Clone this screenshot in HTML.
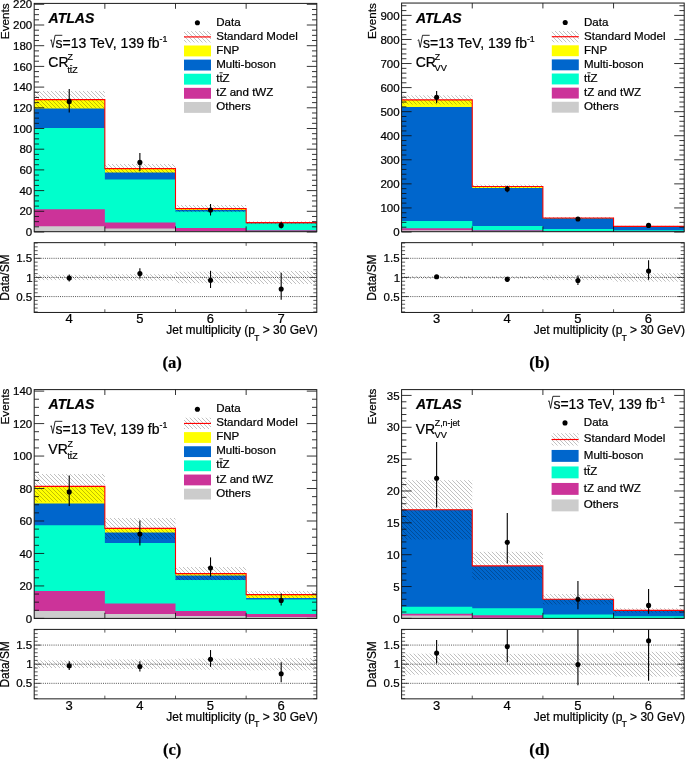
<!DOCTYPE html>
<html><head><meta charset="utf-8"><title>ATLAS jet multiplicity</title>
<style>html,body{margin:0;padding:0;background:#fff}body{width:685px;height:759px;overflow:hidden;font-family:"Liberation Sans",sans-serif}svg{display:block;will-change:transform}svg text{stroke:#000;stroke-width:0.22px}</style>
</head><body>
<svg width="685" height="759" viewBox="0 0 685 759">
<defs><pattern id="h" width="4" height="4" patternUnits="userSpaceOnUse"><path d="M-1,-1L5,5M-1,3L1,5M3,-1L5,1" stroke="#000" stroke-width="0.55" stroke-opacity="0.45" fill="none"/></pattern></defs>
<rect width="685" height="759" fill="#fff"/>
<path d="M34.2,232L34.2,99.6L104.85,99.6L104.85,168.6L175.5,168.6L175.5,208.6L246.15,208.6L246.15,222.6L316.8,222.6L316.8,232Z" fill="#ffff00"/>
<path d="M34.2,232L34.2,108.6L104.85,108.6L104.85,172.6L175.5,172.6L175.5,210L246.15,210L246.15,223.2L316.8,223.2L316.8,232Z" fill="#0066cc"/>
<path d="M34.2,232L34.2,128L104.85,128L104.85,179.4L175.5,179.4L175.5,211.6L246.15,211.6L246.15,223.4L316.8,223.4L316.8,232Z" fill="#00ffcc"/>
<path d="M34.2,232L34.2,209.3L104.85,209.3L104.85,222.6L175.5,222.6L175.5,228L246.15,228L246.15,230.3L316.8,230.3L316.8,232Z" fill="#cc3399"/>
<path d="M34.2,232L34.2,226.3L104.85,226.3L104.85,228.6L175.5,228.6L175.5,231L246.15,231L246.15,231.6L316.8,231.6L316.8,232Z" fill="#cccccc"/>
<rect x="34.2" y="91" width="70.65" height="17.4" fill="url(#h)"/>
<rect x="104.85" y="164" width="70.65" height="9.2" fill="url(#h)"/>
<rect x="175.5" y="205" width="70.65" height="7.2" fill="url(#h)"/>
<rect x="246.15" y="221.3" width="70.65" height="2.7" fill="url(#h)"/>
<path d="M34.2,99.6L34.2,99.6L104.85,99.6L104.85,168.6L175.5,168.6L175.5,208.6L246.15,208.6L246.15,222.6L316.8,222.6" fill="none" stroke="#ff0000" stroke-width="1.08"/>
<line x1="69.23" x2="69.23" y1="89" y2="112.6" stroke="#000" stroke-width="1.1"/>
<circle cx="69.23" cy="101.4" r="2.55" fill="#000"/>
<line x1="139.88" x2="139.88" y1="153" y2="171" stroke="#000" stroke-width="1.1"/>
<circle cx="139.88" cy="162.4" r="2.55" fill="#000"/>
<line x1="210.52" x2="210.52" y1="204" y2="215.5" stroke="#000" stroke-width="1.1"/>
<circle cx="210.52" cy="210" r="2.55" fill="#000"/>
<line x1="281.18" x2="281.18" y1="221.7" y2="228.6" stroke="#000" stroke-width="1.1"/>
<circle cx="281.18" cy="225.4" r="2.55" fill="#000"/>
<path d="M34.2,232h10M316.8,232h-10M34.2,226.82h4.8M316.8,226.82h-4.8M34.2,221.65h4.8M316.8,221.65h-4.8M34.2,216.47h4.8M316.8,216.47h-4.8M34.2,211.3h10M316.8,211.3h-10M34.2,206.12h4.8M316.8,206.12h-4.8M34.2,200.95h4.8M316.8,200.95h-4.8M34.2,195.78h4.8M316.8,195.78h-4.8M34.2,190.6h10M316.8,190.6h-10M34.2,185.43h4.8M316.8,185.43h-4.8M34.2,180.25h4.8M316.8,180.25h-4.8M34.2,175.07h4.8M316.8,175.07h-4.8M34.2,169.9h10M316.8,169.9h-10M34.2,164.73h4.8M316.8,164.73h-4.8M34.2,159.55h4.8M316.8,159.55h-4.8M34.2,154.38h4.8M316.8,154.38h-4.8M34.2,149.2h10M316.8,149.2h-10M34.2,144.03h4.8M316.8,144.03h-4.8M34.2,138.85h4.8M316.8,138.85h-4.8M34.2,133.68h4.8M316.8,133.68h-4.8M34.2,128.5h10M316.8,128.5h-10M34.2,123.33h4.8M316.8,123.33h-4.8M34.2,118.15h4.8M316.8,118.15h-4.8M34.2,112.98h4.8M316.8,112.98h-4.8M34.2,107.8h10M316.8,107.8h-10M34.2,102.62h4.8M316.8,102.62h-4.8M34.2,97.45h4.8M316.8,97.45h-4.8M34.2,92.28h4.8M316.8,92.28h-4.8M34.2,87.1h10M316.8,87.1h-10M34.2,81.93h4.8M316.8,81.93h-4.8M34.2,76.75h4.8M316.8,76.75h-4.8M34.2,71.58h4.8M316.8,71.58h-4.8M34.2,66.4h10M316.8,66.4h-10M34.2,61.23h4.8M316.8,61.23h-4.8M34.2,56.05h4.8M316.8,56.05h-4.8M34.2,50.88h4.8M316.8,50.88h-4.8M34.2,45.7h10M316.8,45.7h-10M34.2,40.53h4.8M316.8,40.53h-4.8M34.2,35.35h4.8M316.8,35.35h-4.8M34.2,30.18h4.8M316.8,30.18h-4.8M34.2,25h10M316.8,25h-10M34.2,19.83h4.8M316.8,19.83h-4.8M34.2,14.65h4.8M316.8,14.65h-4.8M34.2,9.48h4.8M316.8,9.48h-4.8M34.2,4.3h10M316.8,4.3h-10M104.85,232v-5.6M104.85,3.4v5.4M175.5,232v-5.6M175.5,3.4v5.4M246.15,232v-5.6M246.15,3.4v5.4" stroke="#111" stroke-width="0.85" fill="none"/>
<rect x="34.2" y="3.4" width="282.6" height="228.3" fill="none" stroke="#1a1a1a" stroke-width="1"/>
<text x="32.2" y="236.15" font-family="Liberation Sans, sans-serif" font-size="11.5" text-anchor="end">0</text>
<text x="32.2" y="215.45" font-family="Liberation Sans, sans-serif" font-size="11.5" text-anchor="end">20</text>
<text x="32.2" y="194.75" font-family="Liberation Sans, sans-serif" font-size="11.5" text-anchor="end">40</text>
<text x="32.2" y="174.05" font-family="Liberation Sans, sans-serif" font-size="11.5" text-anchor="end">60</text>
<text x="32.2" y="153.35" font-family="Liberation Sans, sans-serif" font-size="11.5" text-anchor="end">80</text>
<text x="32.2" y="132.65" font-family="Liberation Sans, sans-serif" font-size="11.5" text-anchor="end">100</text>
<text x="32.2" y="111.95" font-family="Liberation Sans, sans-serif" font-size="11.5" text-anchor="end">120</text>
<text x="32.2" y="91.25" font-family="Liberation Sans, sans-serif" font-size="11.5" text-anchor="end">140</text>
<text x="32.2" y="70.55" font-family="Liberation Sans, sans-serif" font-size="11.5" text-anchor="end">160</text>
<text x="32.2" y="49.85" font-family="Liberation Sans, sans-serif" font-size="11.5" text-anchor="end">180</text>
<text x="32.2" y="29.15" font-family="Liberation Sans, sans-serif" font-size="11.5" text-anchor="end">200</text>
<text x="32.2" y="8.45" font-family="Liberation Sans, sans-serif" font-size="11.5" text-anchor="end">220</text>
<text transform="translate(8.5,3.4) rotate(-90)" font-family="Liberation Sans, sans-serif" font-size="11.7" text-anchor="end">Events</text>
<rect x="34.2" y="274.77" width="70.65" height="5.36" fill="url(#h)"/>
<rect x="104.85" y="274.2" width="70.65" height="6.5" fill="url(#h)"/>
<rect x="175.5" y="271.71" width="70.65" height="11.47" fill="url(#h)"/>
<rect x="246.15" y="270.95" width="70.65" height="13.01" fill="url(#h)"/>
<line x1="34.2" x2="316.8" y1="296.57" y2="296.57" stroke="#000" stroke-opacity="0.8" stroke-width="0.85" stroke-dasharray="1,1.15"/>
<line x1="34.2" x2="316.8" y1="277.45" y2="277.45" stroke="#000" stroke-opacity="0.8" stroke-width="0.85" stroke-dasharray="1,1.15"/>
<line x1="34.2" x2="316.8" y1="258.32" y2="258.32" stroke="#000" stroke-opacity="0.8" stroke-width="0.85" stroke-dasharray="1,1.15"/>
<line x1="69.23" x2="69.23" y1="274.58" y2="281.47" stroke="#000" stroke-width="1.1"/>
<circle cx="69.23" cy="278.02" r="2.55" fill="#000"/>
<line x1="139.88" x2="139.88" y1="268.27" y2="278.6" stroke="#000" stroke-width="1.1"/>
<circle cx="139.88" cy="273.62" r="2.55" fill="#000"/>
<line x1="210.52" x2="210.52" y1="270.79" y2="288.01" stroke="#000" stroke-width="1.1"/>
<circle cx="210.52" cy="280.36" r="2.55" fill="#000"/>
<line x1="281.18" x2="281.18" y1="272.86" y2="299.63" stroke="#000" stroke-width="1.1"/>
<circle cx="281.18" cy="288.93" r="2.55" fill="#000"/>
<path d="M34.2,311.88h3.5M316.8,311.88h-3.5M34.2,308.05h3.5M316.8,308.05h-3.5M34.2,304.22h3.5M316.8,304.22h-3.5M34.2,300.4h3.5M316.8,300.4h-3.5M34.2,296.57h6.6M316.8,296.57h-6.6M34.2,292.75h3.5M316.8,292.75h-3.5M34.2,288.93h3.5M316.8,288.93h-3.5M34.2,285.1h3.5M316.8,285.1h-3.5M34.2,281.27h3.5M316.8,281.27h-3.5M34.2,277.45h6.6M316.8,277.45h-6.6M34.2,273.62h3.5M316.8,273.62h-3.5M34.2,269.8h3.5M316.8,269.8h-3.5M34.2,265.97h3.5M316.8,265.97h-3.5M34.2,262.15h3.5M316.8,262.15h-3.5M34.2,258.32h6.6M316.8,258.32h-6.6M34.2,254.5h3.5M316.8,254.5h-3.5M34.2,250.67h3.5M316.8,250.67h-3.5M34.2,246.85h3.5M316.8,246.85h-3.5M34.2,243.02h3.5M316.8,243.02h-3.5M104.85,312.45v-3.2M104.85,242.65v3.2M175.5,312.45v-3.2M175.5,242.65v3.2M246.15,312.45v-3.2M246.15,242.65v3.2" stroke="#222" stroke-width="0.75" fill="none"/>
<rect x="34.2" y="242.65" width="282.6" height="69.8" fill="none" stroke="#1a1a1a" stroke-width="1"/>
<text x="32.2" y="300.72" font-family="Liberation Sans, sans-serif" font-size="11.5" text-anchor="end">0.5</text>
<text x="32.7" y="281.6" font-family="Liberation Sans, sans-serif" font-size="11.5" text-anchor="end">1</text>
<text x="32.2" y="262.47" font-family="Liberation Sans, sans-serif" font-size="11.5" text-anchor="end">1.5</text>
<text transform="translate(8.5,277.65) rotate(-90)" font-family="Liberation Sans, sans-serif" font-size="11.9" text-anchor="middle">Data/SM</text>
<text x="69.12" y="323.25" font-family="Liberation Sans, sans-serif" font-size="13" text-anchor="middle">4</text>
<text x="139.78" y="323.25" font-family="Liberation Sans, sans-serif" font-size="13" text-anchor="middle">5</text>
<text x="210.42" y="323.25" font-family="Liberation Sans, sans-serif" font-size="13" text-anchor="middle">6</text>
<text x="281.08" y="323.25" font-family="Liberation Sans, sans-serif" font-size="13" text-anchor="middle">7</text>
<text x="317.7" y="334.25" font-family="Liberation Sans, sans-serif" font-size="12" text-anchor="end">Jet multiplicity (p<tspan font-size="8.3" dy="6.3" dx="-0.7">T</tspan><tspan dy="-6.3"> &gt; 30 GeV)</tspan></text>
<text x="172.1" y="368.45" font-family="Liberation Serif, serif" font-weight="bold" font-size="16.6" text-anchor="middle">(a)</text>
<text x="48.6" y="23" font-family="Liberation Sans, sans-serif" font-size="14" font-weight="bold" font-style="italic">ATLAS</text>
<path d="M50.3,40.4 l1.0,-0.6 l1.5,7.6 l2.3,-12.1 h7.2" fill="none" stroke="#000" stroke-width="0.85"/><text x="55.6" y="48" font-family="Liberation Sans, sans-serif" font-size="14">s=13 TeV, 139 fb<tspan font-size="8.8" dy="-6.2">-1</tspan></text>
<text x="48.3" y="67" font-family="Liberation Sans, sans-serif" font-size="14">CR</text>
<text x="67.4" y="60" font-family="Liberation Sans, sans-serif" font-size="8.8">Z</text>
<text x="67.4" y="73" font-family="Liberation Sans, sans-serif" font-size="8.8">ttZ</text>
<line x1="70" x2="72.2" y1="65.6" y2="65.6" stroke="#000" stroke-width="0.8"/>
<circle cx="197.4" cy="22.7" r="2.55" fill="#000"/>
<text x="216.2" y="26" font-family="Liberation Sans, sans-serif" font-size="11.55">Data</text>
<rect x="184" y="31.17" width="27" height="11.3" fill="url(#h)"/>
<line x1="184" x2="211" y1="36.92" y2="36.92" stroke="#ff0000" stroke-width="1.15"/>
<text x="216.2" y="40" font-family="Liberation Sans, sans-serif" font-size="11.55">Standard Model</text>
<rect x="184" y="45.49" width="27" height="10.9" fill="#ffff00"/>
<text x="216.2" y="54" font-family="Liberation Sans, sans-serif" font-size="11.55">FNP</text>
<rect x="184" y="59.61" width="27" height="10.9" fill="#0066cc"/>
<text x="216.2" y="68" font-family="Liberation Sans, sans-serif" font-size="11.55">Multi-boson</text>
<rect x="184" y="73.73" width="27" height="10.9" fill="#00ffcc"/>
<text x="216.2" y="82" font-family="Liberation Sans, sans-serif" font-size="11.55">ttZ</text>
<line x1="219.5" x2="222.7" y1="72.8" y2="72.8" stroke="#000" stroke-width="0.9"/>
<rect x="184" y="87.85" width="27" height="10.9" fill="#cc3399"/>
<text x="216.2" y="96" font-family="Liberation Sans, sans-serif" font-size="11.55">tZ and tWZ</text>
<rect x="184" y="101.97" width="27" height="10.9" fill="#cccccc"/>
<text x="216.2" y="110" font-family="Liberation Sans, sans-serif" font-size="11.55">Others</text>
<path d="M401.6,232L401.6,99.9L472.25,99.9L472.25,186.5L542.9,186.5L542.9,218L613.55,218L613.55,226.4L684.2,226.4L684.2,232Z" fill="#ffff00"/>
<path d="M401.6,232L401.6,107.1L472.25,107.1L472.25,187.9L542.9,187.9L542.9,218.3L613.55,218.3L613.55,226.6L684.2,226.6L684.2,232Z" fill="#0066cc"/>
<path d="M401.6,232L401.6,221L472.25,221L472.25,226L542.9,226L542.9,229L613.55,229L613.55,230.2L684.2,230.2L684.2,232Z" fill="#00ffcc"/>
<path d="M401.6,232L401.6,228.3L472.25,228.3L472.25,230.3L542.9,230.3L542.9,231L613.55,231L613.55,231.4L684.2,231.4L684.2,232Z" fill="#cc3399"/>
<path d="M401.6,232L401.6,230.3L472.25,230.3L472.25,231.2L542.9,231.2L542.9,231.4L613.55,231.4L613.55,231.5L684.2,231.5L684.2,232Z" fill="#cccccc"/>
<rect x="401.6" y="95.3" width="70.65" height="9.2" fill="url(#h)"/>
<rect x="472.25" y="184.6" width="70.65" height="3.6" fill="url(#h)"/>
<rect x="542.9" y="217" width="70.65" height="2" fill="url(#h)"/>
<rect x="613.55" y="225.8" width="70.65" height="1.2" fill="url(#h)"/>
<path d="M401.6,99.9L401.6,99.9L472.25,99.9L472.25,186.5L542.9,186.5L542.9,218L613.55,218L613.55,226.4L684.2,226.4" fill="none" stroke="#ff0000" stroke-width="1.08"/>
<line x1="436.62" x2="436.62" y1="91" y2="103.2" stroke="#000" stroke-width="1.1"/>
<circle cx="436.62" cy="97.2" r="2.55" fill="#000"/>
<line x1="507.28" x2="507.28" y1="185.8" y2="192.2" stroke="#000" stroke-width="1.1"/>
<circle cx="507.28" cy="189" r="2.55" fill="#000"/>
<line x1="577.93" x2="577.93" y1="217.2" y2="220.8" stroke="#000" stroke-width="1.1"/>
<circle cx="577.93" cy="219" r="2.55" fill="#000"/>
<line x1="648.58" x2="648.58" y1="224.2" y2="226.6" stroke="#000" stroke-width="1.1"/>
<circle cx="648.58" cy="225.4" r="2.55" fill="#000"/>
<path d="M401.6,232h10M684.2,232h-10M401.6,227.19h4.8M684.2,227.19h-4.8M401.6,222.37h4.8M684.2,222.37h-4.8M401.6,217.56h4.8M684.2,217.56h-4.8M401.6,212.75h4.8M684.2,212.75h-4.8M401.6,207.93h10M684.2,207.93h-10M401.6,203.12h4.8M684.2,203.12h-4.8M401.6,198.31h4.8M684.2,198.31h-4.8M401.6,193.49h4.8M684.2,193.49h-4.8M401.6,188.68h4.8M684.2,188.68h-4.8M401.6,183.87h10M684.2,183.87h-10M401.6,179.05h4.8M684.2,179.05h-4.8M401.6,174.24h4.8M684.2,174.24h-4.8M401.6,169.43h4.8M684.2,169.43h-4.8M401.6,164.61h4.8M684.2,164.61h-4.8M401.6,159.8h10M684.2,159.8h-10M401.6,154.99h4.8M684.2,154.99h-4.8M401.6,150.17h4.8M684.2,150.17h-4.8M401.6,145.36h4.8M684.2,145.36h-4.8M401.6,140.55h4.8M684.2,140.55h-4.8M401.6,135.73h10M684.2,135.73h-10M401.6,130.92h4.8M684.2,130.92h-4.8M401.6,126.11h4.8M684.2,126.11h-4.8M401.6,121.29h4.8M684.2,121.29h-4.8M401.6,116.48h4.8M684.2,116.48h-4.8M401.6,111.67h10M684.2,111.67h-10M401.6,106.85h4.8M684.2,106.85h-4.8M401.6,102.04h4.8M684.2,102.04h-4.8M401.6,97.23h4.8M684.2,97.23h-4.8M401.6,92.41h4.8M684.2,92.41h-4.8M401.6,87.6h10M684.2,87.6h-10M401.6,82.79h4.8M684.2,82.79h-4.8M401.6,77.97h4.8M684.2,77.97h-4.8M401.6,73.16h4.8M684.2,73.16h-4.8M401.6,68.35h4.8M684.2,68.35h-4.8M401.6,63.53h10M684.2,63.53h-10M401.6,58.72h4.8M684.2,58.72h-4.8M401.6,53.91h4.8M684.2,53.91h-4.8M401.6,49.09h4.8M684.2,49.09h-4.8M401.6,44.28h4.8M684.2,44.28h-4.8M401.6,39.47h10M684.2,39.47h-10M401.6,34.65h4.8M684.2,34.65h-4.8M401.6,29.84h4.8M684.2,29.84h-4.8M401.6,25.03h4.8M684.2,25.03h-4.8M401.6,20.21h4.8M684.2,20.21h-4.8M401.6,15.4h10M684.2,15.4h-10M401.6,10.59h4.8M684.2,10.59h-4.8M401.6,5.77h4.8M684.2,5.77h-4.8M472.25,232v-5.6M472.25,3.05v5.4M542.9,232v-5.6M542.9,3.05v5.4M613.55,232v-5.6M613.55,3.05v5.4" stroke="#111" stroke-width="0.85" fill="none"/>
<rect x="401.6" y="3.05" width="282.6" height="228.65" fill="none" stroke="#1a1a1a" stroke-width="1"/>
<text x="399.6" y="236.15" font-family="Liberation Sans, sans-serif" font-size="11.5" text-anchor="end">0</text>
<text x="399.6" y="212.08" font-family="Liberation Sans, sans-serif" font-size="11.5" text-anchor="end">100</text>
<text x="399.6" y="188.02" font-family="Liberation Sans, sans-serif" font-size="11.5" text-anchor="end">200</text>
<text x="399.6" y="163.95" font-family="Liberation Sans, sans-serif" font-size="11.5" text-anchor="end">300</text>
<text x="399.6" y="139.88" font-family="Liberation Sans, sans-serif" font-size="11.5" text-anchor="end">400</text>
<text x="399.6" y="115.82" font-family="Liberation Sans, sans-serif" font-size="11.5" text-anchor="end">500</text>
<text x="399.6" y="91.75" font-family="Liberation Sans, sans-serif" font-size="11.5" text-anchor="end">600</text>
<text x="399.6" y="67.68" font-family="Liberation Sans, sans-serif" font-size="11.5" text-anchor="end">700</text>
<text x="399.6" y="43.62" font-family="Liberation Sans, sans-serif" font-size="11.5" text-anchor="end">800</text>
<text x="399.6" y="19.55" font-family="Liberation Sans, sans-serif" font-size="11.5" text-anchor="end">900</text>
<text transform="translate(375.9,3.2) rotate(-90)" font-family="Liberation Sans, sans-serif" font-size="11.7" text-anchor="end">Events</text>
<rect x="401.6" y="275.92" width="70.65" height="3.06" fill="url(#h)"/>
<rect x="472.25" y="275.92" width="70.65" height="3.06" fill="url(#h)"/>
<rect x="542.9" y="274.77" width="70.65" height="5.36" fill="url(#h)"/>
<rect x="613.55" y="273.24" width="70.65" height="8.42" fill="url(#h)"/>
<line x1="401.6" x2="684.2" y1="296.57" y2="296.57" stroke="#000" stroke-opacity="0.8" stroke-width="0.85" stroke-dasharray="1,1.15"/>
<line x1="401.6" x2="684.2" y1="277.45" y2="277.45" stroke="#000" stroke-opacity="0.8" stroke-width="0.85" stroke-dasharray="1,1.15"/>
<line x1="401.6" x2="684.2" y1="258.32" y2="258.32" stroke="#000" stroke-opacity="0.8" stroke-width="0.85" stroke-dasharray="1,1.15"/>
<line x1="436.62" x2="436.62" y1="274.96" y2="278.41" stroke="#000" stroke-width="1.1"/>
<circle cx="436.62" cy="276.69" r="2.55" fill="#000"/>
<line x1="507.28" x2="507.28" y1="276.69" y2="282.04" stroke="#000" stroke-width="1.1"/>
<circle cx="507.28" cy="279.36" r="2.55" fill="#000"/>
<line x1="577.93" x2="577.93" y1="275.54" y2="285.1" stroke="#000" stroke-width="1.1"/>
<circle cx="577.93" cy="280.51" r="2.55" fill="#000"/>
<line x1="648.58" x2="648.58" y1="260.24" y2="279.75" stroke="#000" stroke-width="1.1"/>
<circle cx="648.58" cy="270.95" r="2.55" fill="#000"/>
<path d="M401.6,311.88h3.5M684.2,311.88h-3.5M401.6,308.05h3.5M684.2,308.05h-3.5M401.6,304.22h3.5M684.2,304.22h-3.5M401.6,300.4h3.5M684.2,300.4h-3.5M401.6,296.57h6.6M684.2,296.57h-6.6M401.6,292.75h3.5M684.2,292.75h-3.5M401.6,288.93h3.5M684.2,288.93h-3.5M401.6,285.1h3.5M684.2,285.1h-3.5M401.6,281.27h3.5M684.2,281.27h-3.5M401.6,277.45h6.6M684.2,277.45h-6.6M401.6,273.62h3.5M684.2,273.62h-3.5M401.6,269.8h3.5M684.2,269.8h-3.5M401.6,265.97h3.5M684.2,265.97h-3.5M401.6,262.15h3.5M684.2,262.15h-3.5M401.6,258.32h6.6M684.2,258.32h-6.6M401.6,254.5h3.5M684.2,254.5h-3.5M401.6,250.67h3.5M684.2,250.67h-3.5M401.6,246.85h3.5M684.2,246.85h-3.5M401.6,243.02h3.5M684.2,243.02h-3.5M472.25,312.45v-3.2M472.25,242.65v3.2M542.9,312.45v-3.2M542.9,242.65v3.2M613.55,312.45v-3.2M613.55,242.65v3.2" stroke="#222" stroke-width="0.75" fill="none"/>
<rect x="401.6" y="242.65" width="282.6" height="69.8" fill="none" stroke="#1a1a1a" stroke-width="1"/>
<text x="399.6" y="300.72" font-family="Liberation Sans, sans-serif" font-size="11.5" text-anchor="end">0.5</text>
<text x="400.1" y="281.6" font-family="Liberation Sans, sans-serif" font-size="11.5" text-anchor="end">1</text>
<text x="399.6" y="262.47" font-family="Liberation Sans, sans-serif" font-size="11.5" text-anchor="end">1.5</text>
<text transform="translate(375.9,277.65) rotate(-90)" font-family="Liberation Sans, sans-serif" font-size="11.9" text-anchor="middle">Data/SM</text>
<text x="436.53" y="323.25" font-family="Liberation Sans, sans-serif" font-size="13" text-anchor="middle">3</text>
<text x="507.18" y="323.25" font-family="Liberation Sans, sans-serif" font-size="13" text-anchor="middle">4</text>
<text x="577.83" y="323.25" font-family="Liberation Sans, sans-serif" font-size="13" text-anchor="middle">5</text>
<text x="648.48" y="323.25" font-family="Liberation Sans, sans-serif" font-size="13" text-anchor="middle">6</text>
<text x="685.1" y="334.25" font-family="Liberation Sans, sans-serif" font-size="12" text-anchor="end">Jet multiplicity (p<tspan font-size="8.3" dy="6.3" dx="-0.7">T</tspan><tspan dy="-6.3"> &gt; 30 GeV)</tspan></text>
<text x="539.5" y="368.45" font-family="Liberation Serif, serif" font-weight="bold" font-size="16.6" text-anchor="middle">(b)</text>
<text x="416" y="23" font-family="Liberation Sans, sans-serif" font-size="14" font-weight="bold" font-style="italic">ATLAS</text>
<path d="M417.7,40.4 l1.0,-0.6 l1.5,7.6 l2.3,-12.1 h7.2" fill="none" stroke="#000" stroke-width="0.85"/><text x="423" y="48" font-family="Liberation Sans, sans-serif" font-size="14">s=13 TeV, 139 fb<tspan font-size="8.8" dy="-6.2">-1</tspan></text>
<text x="415.7" y="67" font-family="Liberation Sans, sans-serif" font-size="14">CR</text>
<text x="434.8" y="60" font-family="Liberation Sans, sans-serif" font-size="8.8">Z</text>
<text x="434.6" y="71" font-family="Liberation Sans, sans-serif" font-size="9.2">VV</text>
<circle cx="565.2" cy="22.5" r="2.55" fill="#000"/>
<text x="584" y="26" font-family="Liberation Sans, sans-serif" font-size="11.55">Data</text>
<rect x="551.8" y="30.97" width="27" height="11.3" fill="url(#h)"/>
<line x1="551.8" x2="578.8" y1="36.72" y2="36.72" stroke="#ff0000" stroke-width="1.15"/>
<text x="584" y="40" font-family="Liberation Sans, sans-serif" font-size="11.55">Standard Model</text>
<rect x="551.8" y="45.29" width="27" height="10.9" fill="#ffff00"/>
<text x="584" y="54" font-family="Liberation Sans, sans-serif" font-size="11.55">FNP</text>
<rect x="551.8" y="59.41" width="27" height="10.9" fill="#0066cc"/>
<text x="584" y="68" font-family="Liberation Sans, sans-serif" font-size="11.55">Multi-boson</text>
<rect x="551.8" y="73.53" width="27" height="10.9" fill="#00ffcc"/>
<text x="584" y="82" font-family="Liberation Sans, sans-serif" font-size="11.55">ttZ</text>
<line x1="587.3" x2="590.5" y1="72.8" y2="72.8" stroke="#000" stroke-width="0.9"/>
<rect x="551.8" y="87.65" width="27" height="10.9" fill="#cc3399"/>
<text x="584" y="96" font-family="Liberation Sans, sans-serif" font-size="11.55">tZ and tWZ</text>
<rect x="551.8" y="101.77" width="27" height="10.9" fill="#cccccc"/>
<text x="584" y="110" font-family="Liberation Sans, sans-serif" font-size="11.55">Others</text>
<path d="M34.2,618.4L34.2,486.4L104.85,486.4L104.85,528.4L175.5,528.4L175.5,573.6L246.15,573.6L246.15,594.6L316.8,594.6L316.8,618.4Z" fill="#ffff00"/>
<path d="M34.2,618.4L34.2,503.4L104.85,503.4L104.85,532.4L175.5,532.4L175.5,575.4L246.15,575.4L246.15,598L316.8,598L316.8,618.4Z" fill="#0066cc"/>
<path d="M34.2,618.4L34.2,525.2L104.85,525.2L104.85,543L175.5,543L175.5,580L246.15,580L246.15,599.6L316.8,599.6L316.8,618.4Z" fill="#00ffcc"/>
<path d="M34.2,618.4L34.2,590.9L104.85,590.9L104.85,603.5L175.5,603.5L175.5,611L246.15,611L246.15,614L316.8,614L316.8,618.4Z" fill="#cc3399"/>
<path d="M34.2,618.4L34.2,611L104.85,611L104.85,614L175.5,614L175.5,616L246.15,616L246.15,617L316.8,617L316.8,618.4Z" fill="#cccccc"/>
<rect x="34.2" y="474" width="70.65" height="27.8" fill="url(#h)"/>
<rect x="104.85" y="518" width="70.65" height="21" fill="url(#h)"/>
<rect x="175.5" y="567" width="70.65" height="13.2" fill="url(#h)"/>
<rect x="246.15" y="591" width="70.65" height="7.2" fill="url(#h)"/>
<path d="M34.2,486.4L34.2,486.4L104.85,486.4L104.85,528.4L175.5,528.4L175.5,573.6L246.15,573.6L246.15,594.6L316.8,594.6" fill="none" stroke="#ff0000" stroke-width="1.08"/>
<line x1="69.23" x2="69.23" y1="475.6" y2="506" stroke="#000" stroke-width="1.1"/>
<circle cx="69.23" cy="491.9" r="2.55" fill="#000"/>
<line x1="139.88" x2="139.88" y1="520.6" y2="545.6" stroke="#000" stroke-width="1.1"/>
<circle cx="139.88" cy="534" r="2.55" fill="#000"/>
<line x1="210.52" x2="210.52" y1="557.4" y2="576.6" stroke="#000" stroke-width="1.1"/>
<circle cx="210.52" cy="568" r="2.55" fill="#000"/>
<line x1="281.18" x2="281.18" y1="593.4" y2="605.6" stroke="#000" stroke-width="1.1"/>
<circle cx="281.18" cy="600.4" r="2.55" fill="#000"/>
<path d="M34.2,618.4h10M316.8,618.4h-10M34.2,610.28h4.8M316.8,610.28h-4.8M34.2,602.16h4.8M316.8,602.16h-4.8M34.2,594.05h4.8M316.8,594.05h-4.8M34.2,585.93h10M316.8,585.93h-10M34.2,577.81h4.8M316.8,577.81h-4.8M34.2,569.69h4.8M316.8,569.69h-4.8M34.2,561.58h4.8M316.8,561.58h-4.8M34.2,553.46h10M316.8,553.46h-10M34.2,545.34h4.8M316.8,545.34h-4.8M34.2,537.23h4.8M316.8,537.23h-4.8M34.2,529.11h4.8M316.8,529.11h-4.8M34.2,520.99h10M316.8,520.99h-10M34.2,512.87h4.8M316.8,512.87h-4.8M34.2,504.75h4.8M316.8,504.75h-4.8M34.2,496.64h4.8M316.8,496.64h-4.8M34.2,488.52h10M316.8,488.52h-10M34.2,480.4h4.8M316.8,480.4h-4.8M34.2,472.28h4.8M316.8,472.28h-4.8M34.2,464.17h4.8M316.8,464.17h-4.8M34.2,456.05h10M316.8,456.05h-10M34.2,447.93h4.8M316.8,447.93h-4.8M34.2,439.81h4.8M316.8,439.81h-4.8M34.2,431.7h4.8M316.8,431.7h-4.8M34.2,423.58h10M316.8,423.58h-10M34.2,415.46h4.8M316.8,415.46h-4.8M34.2,407.34h4.8M316.8,407.34h-4.8M34.2,399.23h4.8M316.8,399.23h-4.8M34.2,391.11h10M316.8,391.11h-10M104.85,618.4v-5.6M104.85,389.6v5.4M175.5,618.4v-5.6M175.5,389.6v5.4M246.15,618.4v-5.6M246.15,389.6v5.4" stroke="#111" stroke-width="0.85" fill="none"/>
<rect x="34.2" y="389.6" width="282.6" height="228.8" fill="none" stroke="#1a1a1a" stroke-width="1"/>
<text x="32.2" y="622.55" font-family="Liberation Sans, sans-serif" font-size="11.5" text-anchor="end">0</text>
<text x="32.2" y="590.08" font-family="Liberation Sans, sans-serif" font-size="11.5" text-anchor="end">20</text>
<text x="32.2" y="557.61" font-family="Liberation Sans, sans-serif" font-size="11.5" text-anchor="end">40</text>
<text x="32.2" y="525.14" font-family="Liberation Sans, sans-serif" font-size="11.5" text-anchor="end">60</text>
<text x="32.2" y="492.67" font-family="Liberation Sans, sans-serif" font-size="11.5" text-anchor="end">80</text>
<text x="32.2" y="460.2" font-family="Liberation Sans, sans-serif" font-size="11.5" text-anchor="end">100</text>
<text x="32.2" y="427.73" font-family="Liberation Sans, sans-serif" font-size="11.5" text-anchor="end">120</text>
<text x="32.2" y="395.26" font-family="Liberation Sans, sans-serif" font-size="11.5" text-anchor="end">140</text>
<text transform="translate(8.5,388.7) rotate(-90)" font-family="Liberation Sans, sans-serif" font-size="11.7" text-anchor="end">Events</text>
<rect x="34.2" y="660.38" width="70.65" height="7.65" fill="url(#h)"/>
<rect x="104.85" y="659.42" width="70.65" height="9.56" fill="url(#h)"/>
<rect x="175.5" y="658.65" width="70.65" height="11.09" fill="url(#h)"/>
<rect x="246.15" y="658.08" width="70.65" height="12.24" fill="url(#h)"/>
<line x1="34.2" x2="316.8" y1="683.33" y2="683.33" stroke="#000" stroke-opacity="0.8" stroke-width="0.85" stroke-dasharray="1,1.15"/>
<line x1="34.2" x2="316.8" y1="664.2" y2="664.2" stroke="#000" stroke-opacity="0.8" stroke-width="0.85" stroke-dasharray="1,1.15"/>
<line x1="34.2" x2="316.8" y1="645.08" y2="645.08" stroke="#000" stroke-opacity="0.8" stroke-width="0.85" stroke-dasharray="1,1.15"/>
<line x1="69.23" x2="69.23" y1="661.14" y2="669.94" stroke="#000" stroke-width="1.1"/>
<circle cx="69.23" cy="665.73" r="2.55" fill="#000"/>
<line x1="139.88" x2="139.88" y1="661.14" y2="671.47" stroke="#000" stroke-width="1.1"/>
<circle cx="139.88" cy="666.5" r="2.55" fill="#000"/>
<line x1="210.52" x2="210.52" y1="650.05" y2="666.88" stroke="#000" stroke-width="1.1"/>
<circle cx="210.52" cy="659.23" r="2.55" fill="#000"/>
<line x1="281.18" x2="281.18" y1="662.29" y2="682.18" stroke="#000" stroke-width="1.1"/>
<circle cx="281.18" cy="673.76" r="2.55" fill="#000"/>
<path d="M34.2,698.62h3.5M316.8,698.62h-3.5M34.2,694.8h3.5M316.8,694.8h-3.5M34.2,690.98h3.5M316.8,690.98h-3.5M34.2,687.15h3.5M316.8,687.15h-3.5M34.2,683.33h6.6M316.8,683.33h-6.6M34.2,679.5h3.5M316.8,679.5h-3.5M34.2,675.68h3.5M316.8,675.68h-3.5M34.2,671.85h3.5M316.8,671.85h-3.5M34.2,668.03h3.5M316.8,668.03h-3.5M34.2,664.2h6.6M316.8,664.2h-6.6M34.2,660.38h3.5M316.8,660.38h-3.5M34.2,656.55h3.5M316.8,656.55h-3.5M34.2,652.73h3.5M316.8,652.73h-3.5M34.2,648.9h3.5M316.8,648.9h-3.5M34.2,645.08h6.6M316.8,645.08h-6.6M34.2,641.25h3.5M316.8,641.25h-3.5M34.2,637.43h3.5M316.8,637.43h-3.5M34.2,633.6h3.5M316.8,633.6h-3.5M34.2,629.78h3.5M316.8,629.78h-3.5M104.85,698.85v-3.2M104.85,629.4v3.2M175.5,698.85v-3.2M175.5,629.4v3.2M246.15,698.85v-3.2M246.15,629.4v3.2" stroke="#222" stroke-width="0.75" fill="none"/>
<rect x="34.2" y="629.4" width="282.6" height="69.45" fill="none" stroke="#1a1a1a" stroke-width="1"/>
<text x="32.2" y="687.48" font-family="Liberation Sans, sans-serif" font-size="11.5" text-anchor="end">0.5</text>
<text x="32.7" y="668.35" font-family="Liberation Sans, sans-serif" font-size="11.5" text-anchor="end">1</text>
<text x="32.2" y="649.23" font-family="Liberation Sans, sans-serif" font-size="11.5" text-anchor="end">1.5</text>
<text transform="translate(8.5,664.4) rotate(-90)" font-family="Liberation Sans, sans-serif" font-size="11.9" text-anchor="middle">Data/SM</text>
<text x="69.12" y="709.65" font-family="Liberation Sans, sans-serif" font-size="13" text-anchor="middle">3</text>
<text x="139.78" y="709.65" font-family="Liberation Sans, sans-serif" font-size="13" text-anchor="middle">4</text>
<text x="210.42" y="709.65" font-family="Liberation Sans, sans-serif" font-size="13" text-anchor="middle">5</text>
<text x="281.08" y="709.65" font-family="Liberation Sans, sans-serif" font-size="13" text-anchor="middle">6</text>
<text x="317.7" y="720.65" font-family="Liberation Sans, sans-serif" font-size="12" text-anchor="end">Jet multiplicity (p<tspan font-size="8.3" dy="6.3" dx="-0.7">T</tspan><tspan dy="-6.3"> &gt; 30 GeV)</tspan></text>
<text x="172.1" y="754.85" font-family="Liberation Serif, serif" font-weight="bold" font-size="16.6" text-anchor="middle">(c)</text>
<text x="48.6" y="409" font-family="Liberation Sans, sans-serif" font-size="14" font-weight="bold" font-style="italic">ATLAS</text>
<path d="M50.3,426.4 l1.0,-0.6 l1.5,7.6 l2.3,-12.1 h7.2" fill="none" stroke="#000" stroke-width="0.85"/><text x="55.6" y="434" font-family="Liberation Sans, sans-serif" font-size="14">s=13 TeV, 139 fb<tspan font-size="8.8" dy="-6.2">-1</tspan></text>
<text x="48.3" y="454" font-family="Liberation Sans, sans-serif" font-size="14">VR</text>
<text x="67.4" y="447" font-family="Liberation Sans, sans-serif" font-size="8.8">Z</text>
<text x="67.4" y="459" font-family="Liberation Sans, sans-serif" font-size="8.8">ttZ</text>
<line x1="70" x2="72.2" y1="451.6" y2="451.6" stroke="#000" stroke-width="0.8"/>
<circle cx="197.4" cy="409.2" r="2.55" fill="#000"/>
<text x="216.2" y="412" font-family="Liberation Sans, sans-serif" font-size="11.55">Data</text>
<rect x="184" y="417.75" width="27" height="11.2" fill="url(#h)"/>
<line x1="184" x2="211" y1="423.45" y2="423.45" stroke="#ff0000" stroke-width="1.15"/>
<text x="216.2" y="426" font-family="Liberation Sans, sans-serif" font-size="11.55">Standard Model</text>
<rect x="184" y="432.1" width="27" height="10.8" fill="#ffff00"/>
<text x="216.2" y="440" font-family="Liberation Sans, sans-serif" font-size="11.55">FNP</text>
<rect x="184" y="446.25" width="27" height="10.8" fill="#0066cc"/>
<text x="216.2" y="454" font-family="Liberation Sans, sans-serif" font-size="11.55">Multi-boson</text>
<rect x="184" y="460.4" width="27" height="10.8" fill="#00ffcc"/>
<text x="216.2" y="468" font-family="Liberation Sans, sans-serif" font-size="11.55">ttZ</text>
<line x1="219.5" x2="222.7" y1="458.8" y2="458.8" stroke="#000" stroke-width="0.9"/>
<rect x="184" y="474.55" width="27" height="10.8" fill="#cc3399"/>
<text x="216.2" y="483" font-family="Liberation Sans, sans-serif" font-size="11.55">tZ and tWZ</text>
<rect x="184" y="488.7" width="27" height="10.8" fill="#cccccc"/>
<text x="216.2" y="497" font-family="Liberation Sans, sans-serif" font-size="11.55">Others</text>
<path d="M401.6,618.4L401.6,509.7L472.25,509.7L472.25,565.9L542.9,565.9L542.9,599.3L613.55,599.3L613.55,610.4L684.2,610.4L684.2,618.4Z" fill="#ffff00"/>
<path d="M401.6,618.4L401.6,509.7L472.25,509.7L472.25,565.9L542.9,565.9L542.9,599.3L613.55,599.3L613.55,610.4L684.2,610.4L684.2,618.4Z" fill="#0066cc"/>
<path d="M401.6,618.4L401.6,606.7L472.25,606.7L472.25,608.3L542.9,608.3L542.9,614.4L613.55,614.4L613.55,616.3L684.2,616.3L684.2,618.4Z" fill="#00ffcc"/>
<path d="M401.6,618.4L401.6,613.7L472.25,613.7L472.25,615.3L542.9,615.3L542.9,617.9L613.55,617.9L613.55,618.1L684.2,618.1L684.2,618.4Z" fill="#cc3399"/>
<path d="M401.6,618.4L401.6,615.6L472.25,615.6L472.25,617.7L542.9,617.7L542.9,618.2L613.55,618.2L613.55,618.3L684.2,618.3L684.2,618.4Z" fill="#cccccc"/>
<rect x="401.6" y="480.2" width="70.65" height="59.3" fill="url(#h)"/>
<rect x="472.25" y="551.8" width="70.65" height="28" fill="url(#h)"/>
<rect x="542.9" y="594" width="70.65" height="10.5" fill="url(#h)"/>
<rect x="613.55" y="608.2" width="70.65" height="4.4" fill="url(#h)"/>
<path d="M401.6,509.7L401.6,509.7L472.25,509.7L472.25,565.9L542.9,565.9L542.9,599.3L613.55,599.3L613.55,610.4L684.2,610.4" fill="none" stroke="#ff0000" stroke-width="1.08"/>
<line x1="436.62" x2="436.62" y1="442" y2="507.5" stroke="#000" stroke-width="1.1"/>
<circle cx="436.62" cy="478.3" r="2.55" fill="#000"/>
<line x1="507.28" x2="507.28" y1="513" y2="563.6" stroke="#000" stroke-width="1.1"/>
<circle cx="507.28" cy="542.2" r="2.55" fill="#000"/>
<line x1="577.93" x2="577.93" y1="580.9" y2="609.3" stroke="#000" stroke-width="1.1"/>
<circle cx="577.93" cy="599.3" r="2.55" fill="#000"/>
<line x1="648.58" x2="648.58" y1="589" y2="613.7" stroke="#000" stroke-width="1.1"/>
<circle cx="648.58" cy="605.4" r="2.55" fill="#000"/>
<path d="M401.6,618.4h10M684.2,618.4h-10M401.6,612.03h4.8M684.2,612.03h-4.8M401.6,605.66h4.8M684.2,605.66h-4.8M401.6,599.29h4.8M684.2,599.29h-4.8M401.6,592.92h4.8M684.2,592.92h-4.8M401.6,586.54h10M684.2,586.54h-10M401.6,580.17h4.8M684.2,580.17h-4.8M401.6,573.8h4.8M684.2,573.8h-4.8M401.6,567.43h4.8M684.2,567.43h-4.8M401.6,561.06h4.8M684.2,561.06h-4.8M401.6,554.69h10M684.2,554.69h-10M401.6,548.32h4.8M684.2,548.32h-4.8M401.6,541.95h4.8M684.2,541.95h-4.8M401.6,535.58h4.8M684.2,535.58h-4.8M401.6,529.21h4.8M684.2,529.21h-4.8M401.6,522.83h10M684.2,522.83h-10M401.6,516.46h4.8M684.2,516.46h-4.8M401.6,510.09h4.8M684.2,510.09h-4.8M401.6,503.72h4.8M684.2,503.72h-4.8M401.6,497.35h4.8M684.2,497.35h-4.8M401.6,490.98h10M684.2,490.98h-10M401.6,484.61h4.8M684.2,484.61h-4.8M401.6,478.24h4.8M684.2,478.24h-4.8M401.6,471.87h4.8M684.2,471.87h-4.8M401.6,465.5h4.8M684.2,465.5h-4.8M401.6,459.12h10M684.2,459.12h-10M401.6,452.75h4.8M684.2,452.75h-4.8M401.6,446.38h4.8M684.2,446.38h-4.8M401.6,440.01h4.8M684.2,440.01h-4.8M401.6,433.64h4.8M684.2,433.64h-4.8M401.6,427.27h10M684.2,427.27h-10M401.6,420.9h4.8M684.2,420.9h-4.8M401.6,414.53h4.8M684.2,414.53h-4.8M401.6,408.16h4.8M684.2,408.16h-4.8M401.6,401.79h4.8M684.2,401.79h-4.8M401.6,395.41h10M684.2,395.41h-10M472.25,618.4v-5.6M472.25,389.6v5.4M542.9,618.4v-5.6M542.9,389.6v5.4M613.55,618.4v-5.6M613.55,389.6v5.4" stroke="#111" stroke-width="0.85" fill="none"/>
<rect x="401.6" y="389.6" width="282.6" height="228.8" fill="none" stroke="#1a1a1a" stroke-width="1"/>
<text x="399.6" y="622.55" font-family="Liberation Sans, sans-serif" font-size="11.5" text-anchor="end">0</text>
<text x="399.6" y="590.69" font-family="Liberation Sans, sans-serif" font-size="11.5" text-anchor="end">5</text>
<text x="399.6" y="558.84" font-family="Liberation Sans, sans-serif" font-size="11.5" text-anchor="end">10</text>
<text x="399.6" y="526.98" font-family="Liberation Sans, sans-serif" font-size="11.5" text-anchor="end">15</text>
<text x="399.6" y="495.13" font-family="Liberation Sans, sans-serif" font-size="11.5" text-anchor="end">20</text>
<text x="399.6" y="463.27" font-family="Liberation Sans, sans-serif" font-size="11.5" text-anchor="end">25</text>
<text x="399.6" y="431.42" font-family="Liberation Sans, sans-serif" font-size="11.5" text-anchor="end">30</text>
<text x="399.6" y="399.56" font-family="Liberation Sans, sans-serif" font-size="11.5" text-anchor="end">35</text>
<text transform="translate(375.9,388.7) rotate(-90)" font-family="Liberation Sans, sans-serif" font-size="11.7" text-anchor="end">Events</text>
<rect x="401.6" y="653.68" width="70.65" height="21.04" fill="url(#h)"/>
<rect x="472.25" y="653.87" width="70.65" height="20.66" fill="url(#h)"/>
<rect x="542.9" y="653.68" width="70.65" height="21.04" fill="url(#h)"/>
<rect x="613.55" y="651.77" width="70.65" height="24.86" fill="url(#h)"/>
<line x1="401.6" x2="684.2" y1="683.33" y2="683.33" stroke="#000" stroke-opacity="0.8" stroke-width="0.85" stroke-dasharray="1,1.15"/>
<line x1="401.6" x2="684.2" y1="664.2" y2="664.2" stroke="#000" stroke-opacity="0.8" stroke-width="0.85" stroke-dasharray="1,1.15"/>
<line x1="401.6" x2="684.2" y1="645.08" y2="645.08" stroke="#000" stroke-opacity="0.8" stroke-width="0.85" stroke-dasharray="1,1.15"/>
<line x1="436.62" x2="436.62" y1="640.1" y2="663.44" stroke="#000" stroke-width="1.1"/>
<circle cx="436.62" cy="653.11" r="2.55" fill="#000"/>
<line x1="507.28" x2="507.28" y1="629.4" y2="662.29" stroke="#000" stroke-width="1.1"/>
<circle cx="507.28" cy="646.61" r="2.55" fill="#000"/>
<line x1="577.93" x2="577.93" y1="629.4" y2="685.24" stroke="#000" stroke-width="1.1"/>
<circle cx="577.93" cy="664.58" r="2.55" fill="#000"/>
<line x1="648.58" x2="648.58" y1="629.4" y2="680.65" stroke="#000" stroke-width="1.1"/>
<circle cx="648.58" cy="640.87" r="2.55" fill="#000"/>
<path d="M401.6,698.62h3.5M684.2,698.62h-3.5M401.6,694.8h3.5M684.2,694.8h-3.5M401.6,690.98h3.5M684.2,690.98h-3.5M401.6,687.15h3.5M684.2,687.15h-3.5M401.6,683.33h6.6M684.2,683.33h-6.6M401.6,679.5h3.5M684.2,679.5h-3.5M401.6,675.68h3.5M684.2,675.68h-3.5M401.6,671.85h3.5M684.2,671.85h-3.5M401.6,668.03h3.5M684.2,668.03h-3.5M401.6,664.2h6.6M684.2,664.2h-6.6M401.6,660.38h3.5M684.2,660.38h-3.5M401.6,656.55h3.5M684.2,656.55h-3.5M401.6,652.73h3.5M684.2,652.73h-3.5M401.6,648.9h3.5M684.2,648.9h-3.5M401.6,645.08h6.6M684.2,645.08h-6.6M401.6,641.25h3.5M684.2,641.25h-3.5M401.6,637.43h3.5M684.2,637.43h-3.5M401.6,633.6h3.5M684.2,633.6h-3.5M401.6,629.78h3.5M684.2,629.78h-3.5M472.25,698.85v-3.2M472.25,629.4v3.2M542.9,698.85v-3.2M542.9,629.4v3.2M613.55,698.85v-3.2M613.55,629.4v3.2" stroke="#222" stroke-width="0.75" fill="none"/>
<rect x="401.6" y="629.4" width="282.6" height="69.45" fill="none" stroke="#1a1a1a" stroke-width="1"/>
<text x="399.6" y="687.48" font-family="Liberation Sans, sans-serif" font-size="11.5" text-anchor="end">0.5</text>
<text x="400.1" y="668.35" font-family="Liberation Sans, sans-serif" font-size="11.5" text-anchor="end">1</text>
<text x="399.6" y="649.23" font-family="Liberation Sans, sans-serif" font-size="11.5" text-anchor="end">1.5</text>
<text transform="translate(375.9,664.4) rotate(-90)" font-family="Liberation Sans, sans-serif" font-size="11.9" text-anchor="middle">Data/SM</text>
<text x="436.53" y="709.65" font-family="Liberation Sans, sans-serif" font-size="13" text-anchor="middle">3</text>
<text x="507.18" y="709.65" font-family="Liberation Sans, sans-serif" font-size="13" text-anchor="middle">4</text>
<text x="577.83" y="709.65" font-family="Liberation Sans, sans-serif" font-size="13" text-anchor="middle">5</text>
<text x="648.48" y="709.65" font-family="Liberation Sans, sans-serif" font-size="13" text-anchor="middle">6</text>
<text x="685.1" y="720.65" font-family="Liberation Sans, sans-serif" font-size="12" text-anchor="end">Jet multiplicity (p<tspan font-size="8.3" dy="6.3" dx="-0.7">T</tspan><tspan dy="-6.3"> &gt; 30 GeV)</tspan></text>
<text x="539.5" y="754.85" font-family="Liberation Serif, serif" font-weight="bold" font-size="16.6" text-anchor="middle">(d)</text>
<text x="416" y="409" font-family="Liberation Sans, sans-serif" font-size="14" font-weight="bold" font-style="italic">ATLAS</text>
<path d="M548.1,401.4 l1.0,-0.6 l1.5,7.6 l2.3,-12.1 h7.2" fill="none" stroke="#000" stroke-width="0.85"/><text x="553.4" y="409" font-family="Liberation Sans, sans-serif" font-size="14">s=13 TeV, 139 fb<tspan font-size="8.8" dy="-6.2">-1</tspan></text>
<text x="415.7" y="434" font-family="Liberation Sans, sans-serif" font-size="14">VR</text>
<text x="434.8" y="426" font-family="Liberation Sans, sans-serif" font-size="8.8">Z,n-jet</text>
<text x="434.6" y="438" font-family="Liberation Sans, sans-serif" font-size="9.2">VV</text>
<circle cx="565" cy="422.9" r="2.55" fill="#000"/>
<text x="583.8" y="426" font-family="Liberation Sans, sans-serif" font-size="11.55">Data</text>
<rect x="551.6" y="433.25" width="27" height="12.3" fill="url(#h)"/>
<line x1="551.6" x2="578.6" y1="439.5" y2="439.5" stroke="#ff0000" stroke-width="1.15"/>
<text x="583.8" y="442" font-family="Liberation Sans, sans-serif" font-size="11.55">Standard Model</text>
<rect x="551.6" y="449.95" width="27" height="11.9" fill="#0066cc"/>
<text x="583.8" y="459" font-family="Liberation Sans, sans-serif" font-size="11.55">Multi-boson</text>
<rect x="551.6" y="466.45" width="27" height="11.9" fill="#00ffcc"/>
<text x="583.8" y="475" font-family="Liberation Sans, sans-serif" font-size="11.55">ttZ</text>
<line x1="587.1" x2="590.3" y1="465.8" y2="465.8" stroke="#000" stroke-width="0.9"/>
<rect x="551.6" y="482.95" width="27" height="11.9" fill="#cc3399"/>
<text x="583.8" y="492" font-family="Liberation Sans, sans-serif" font-size="11.55">tZ and tWZ</text>
<rect x="551.6" y="499.45" width="27" height="11.9" fill="#cccccc"/>
<text x="583.8" y="508" font-family="Liberation Sans, sans-serif" font-size="11.55">Others</text>
</svg>
</body></html>
